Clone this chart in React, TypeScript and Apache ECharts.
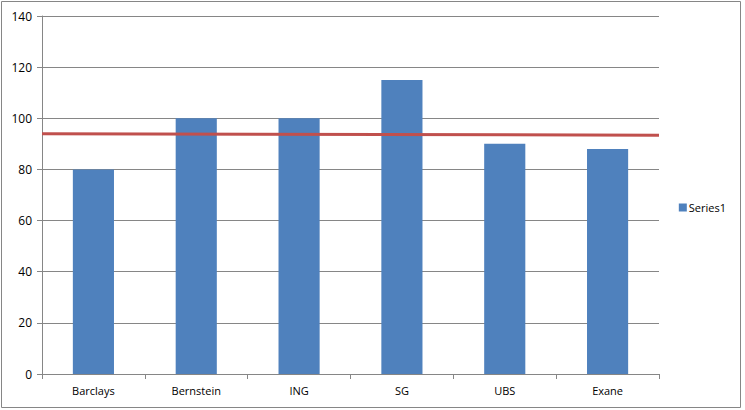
import React, { useEffect, useRef } from "react";
import * as echarts from "echarts";

const categories = ["Barclays", "Bernstein", "ING", "SG", "UBS", "Exane"];
const series1 = [80, 100, 100, 115, 90, 88];
const redLineX = [0, 1];
const redLineY = [94, 93.4];
const yTicks = [0, 20, 40, 60, 80, 100, 120, 140];

export default function App() {
  const ref = useRef<HTMLDivElement>(null);
  useEffect(() => {
    const chart = echarts.init(ref.current!, null, { renderer: "svg" });
    const font = "'Open Sans', 'DejaVu Sans', sans-serif";
    chart.setOption({
      animation: false,
      backgroundColor: "#ffffff",
      textStyle: { fontFamily: font },
      grid: { left: 42, right: 86, top: 16, bottom: 36, containLabel: false },
      legend: {
        right: 14,
        top: 197,
        orient: "vertical",
        itemWidth: 8,
        itemHeight: 8,
        itemGap: 4,
        icon: "rect",
        data: ["Series1"],
        textStyle: { fontSize: 11, color: "#000", fontFamily: font, padding: [0, 0, 0, -3] },
      },
      xAxis: [
        {
          type: "category",
          data: categories,
          axisLine: { lineStyle: { color: "#868686" } },
          axisTick: { show: true, alignWithLabel: false, length: 5, lineStyle: { color: "#868686" } },
          axisLabel: { color: "#000", fontSize: 11, margin: 11, fontFamily: font },
        },
        { type: "value", min: 0, max: 1, show: false },
      ],
      yAxis: {
        type: "value",
        min: yTicks[0],
        max: yTicks[yTicks.length - 1],
        interval: 20,
        axisLine: { show: true, lineStyle: { color: "#868686" } },
        axisTick: { show: true, length: 5, lineStyle: { color: "#868686" } },
        axisLabel: { color: "#000", fontSize: 12, margin: 10, fontFamily: font },
        splitLine: { lineStyle: { color: "#868686", width: 1 } },
      },
      series: [
        {
          name: "Series1",
          type: "bar",
          data: series1,
          barWidth: "40%",
          itemStyle: { color: "#4F81BD" },
          z: 2,
        },
        {
          name: "avg",
          type: "line",
          xAxisIndex: 1,
          data: redLineX.map((x, i) => [x, redLineY[i]]),
          symbol: "none",
          lineStyle: { color: "#C0504D", width: 3 },
          z: 3,
        },
      ],
      graphic: [
        {
          type: "rect",
          shape: { x: 1.5, y: 1.5, width: 739, height: 406 },
          style: { fill: "none", stroke: "#868686", lineWidth: 1 },
          silent: true,
        },
      ],
    });
    return () => chart.dispose();
  }, []);
  return (
    <div
      ref={ref}
      style={{ position: "fixed", left: 0, top: 0, width: 745, height: 410 }}
    />
  );
}
